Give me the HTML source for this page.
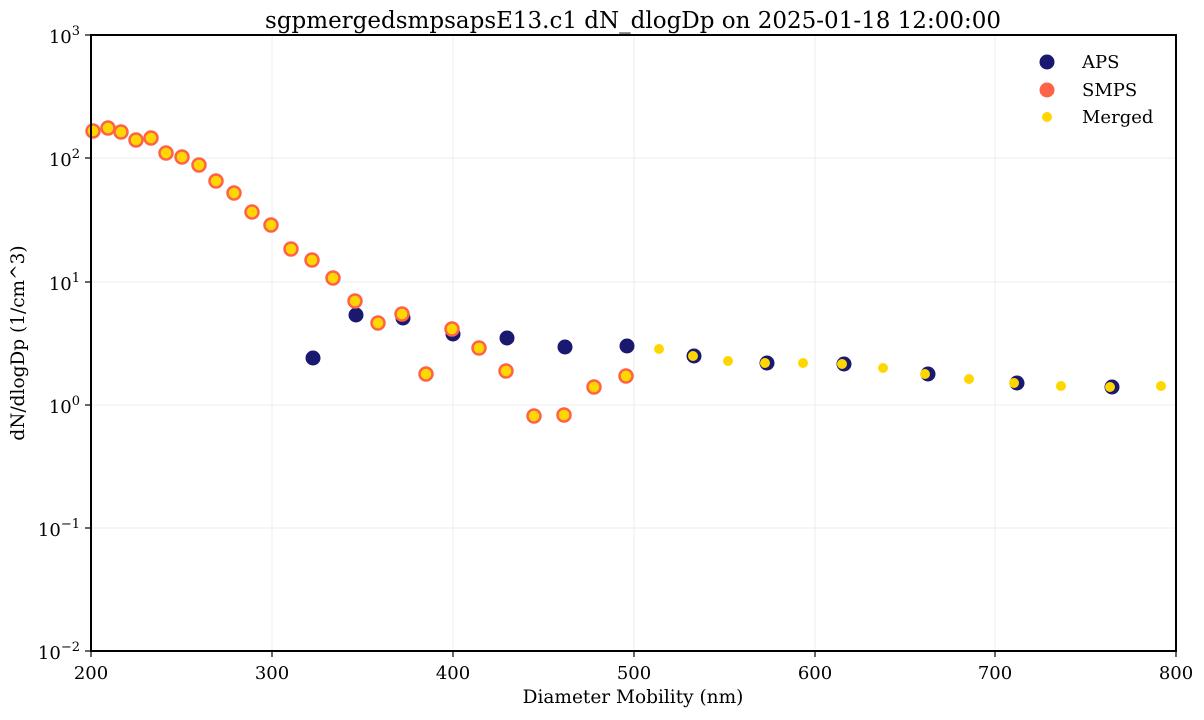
<!DOCTYPE html>
<html><head><meta charset="utf-8"><style>
body{margin:0;background:#fff}
text{font-family:"DejaVu Serif","Liberation Serif",serif;fill:#000}
</style></head><body>
<svg width="1204" height="715" xmlns="http://www.w3.org/2000/svg">
<rect width="1204" height="715" fill="#fff"/>
<g stroke="#ececec" stroke-width="1">
<line x1="272" y1="35" x2="272" y2="651"/><line x1="453" y1="35" x2="453" y2="651"/>
<line x1="634" y1="35" x2="634" y2="651"/><line x1="815" y1="35" x2="815" y2="651"/>
<line x1="995" y1="35" x2="995" y2="651"/>
<line x1="91" y1="158" x2="1176" y2="158"/><line x1="91" y1="282" x2="1176" y2="282"/>
<line x1="91" y1="405" x2="1176" y2="405"/><line x1="91" y1="528" x2="1176" y2="528"/>
</g>
<g fill="#191970">
<circle cx="313" cy="358" r="7.5"/><circle cx="356" cy="315" r="7.5"/><circle cx="403" cy="318" r="7.5"/>
<circle cx="453" cy="334" r="7.5"/><circle cx="507" cy="338" r="7.5"/><circle cx="565" cy="347" r="7.5"/>
<circle cx="627" cy="346" r="7.5"/><circle cx="694" cy="356" r="7.5"/><circle cx="767" cy="363" r="7.5"/>
<circle cx="844" cy="364" r="7.5"/><circle cx="928" cy="374" r="7.5"/><circle cx="1017" cy="383" r="7.5"/>
<circle cx="1112" cy="387" r="7.5"/>
</g>
<g fill="#ffd700" stroke="#ff6347" stroke-width="2.5">
<circle cx="93" cy="131" r="6.5"/><circle cx="108" cy="128" r="6.5"/><circle cx="121" cy="132" r="6.5"/>
<circle cx="136" cy="140" r="6.5"/><circle cx="151" cy="138" r="6.5"/><circle cx="166" cy="153" r="6.5"/>
<circle cx="182" cy="157" r="6.5"/><circle cx="199" cy="165" r="6.5"/><circle cx="216" cy="181" r="6.5"/>
<circle cx="234" cy="193" r="6.5"/><circle cx="252" cy="212" r="6.5"/><circle cx="271" cy="225" r="6.5"/>
<circle cx="291" cy="249" r="6.5"/><circle cx="312" cy="260" r="6.5"/><circle cx="333" cy="278" r="6.5"/>
<circle cx="355" cy="301" r="6.5"/><circle cx="378" cy="323" r="6.5"/><circle cx="402" cy="314" r="6.5"/>
<circle cx="426" cy="374" r="6.5"/><circle cx="452" cy="329" r="6.5"/><circle cx="479" cy="348" r="6.5"/>
<circle cx="506" cy="371" r="6.5"/><circle cx="534" cy="416" r="6.5"/><circle cx="564" cy="415" r="6.5"/>
<circle cx="594" cy="387" r="6.5"/><circle cx="626" cy="376" r="6.5"/>
</g>
<g fill="#ffd700">
<circle cx="659" cy="349" r="5"/><circle cx="693" cy="356" r="5"/><circle cx="728" cy="361" r="5"/>
<circle cx="765" cy="363" r="5"/><circle cx="803" cy="363" r="5"/><circle cx="842" cy="364" r="5"/>
<circle cx="883" cy="368" r="5"/><circle cx="925" cy="374" r="5"/><circle cx="969" cy="379" r="5"/>
<circle cx="1014" cy="383" r="5"/><circle cx="1061" cy="386" r="5"/><circle cx="1110" cy="387" r="5"/>
<circle cx="1161" cy="386" r="5"/>
</g>
<rect x="91" y="35" width="1085" height="616" fill="none" stroke="#000" stroke-width="2"/>
<g stroke="#000" stroke-width="1.2">
<line x1="91" y1="651" x2="91" y2="657"/><line x1="272" y1="651" x2="272" y2="657"/>
<line x1="453" y1="651" x2="453" y2="657"/><line x1="634" y1="651" x2="634" y2="657"/>
<line x1="815" y1="651" x2="815" y2="657"/><line x1="995" y1="651" x2="995" y2="657"/>
<line x1="1176" y1="651" x2="1176" y2="657"/>
<line x1="85" y1="35" x2="91" y2="35"/><line x1="85" y1="158" x2="91" y2="158"/>
<line x1="85" y1="282" x2="91" y2="282"/><line x1="85" y1="405" x2="91" y2="405"/>
<line x1="85" y1="528" x2="91" y2="528"/><line x1="85" y1="651" x2="91" y2="651"/>
</g>
<g font-size="18" text-anchor="middle">
<text x="91" y="679">200</text><text x="272" y="679">300</text><text x="453" y="679">400</text>
<text x="634" y="679">500</text><text x="815" y="679">600</text><text x="995" y="679">700</text>
<text x="1176" y="679">800</text>
</g>
<g font-size="18" text-anchor="end">
<text x="80" y="43">10<tspan dy="-8" font-size="13">3</tspan></text>
<text x="80" y="166">10<tspan dy="-8" font-size="13">2</tspan></text>
<text x="80" y="290">10<tspan dy="-8" font-size="13">1</tspan></text>
<text x="80" y="413">10<tspan dy="-8" font-size="13">0</tspan></text>
<text x="80" y="536">10<tspan dy="-8" font-size="13">−1</tspan></text>
<text x="80" y="659">10<tspan dy="-8" font-size="13">−2</tspan></text>
</g>
<text x="633" y="703" font-size="18.5" text-anchor="middle">Diameter Mobility (nm)</text>
<text transform="translate(24,343) rotate(-90)" font-size="18.5" text-anchor="middle">dN/dlogDp (1/cm^3)</text>
<text x="633" y="28" font-size="23" text-anchor="middle">sgpmergedsmpsapsE13.c1 dN_dlogDp on 2025-01-18 12:00:00</text>
<circle cx="1047" cy="62" r="7.5" fill="#191970"/>
<circle cx="1047" cy="90" r="7.5" fill="#ff6347"/>
<circle cx="1047" cy="117" r="5" fill="#ffd700"/>
<g font-size="18"><text x="1082" y="68">APS</text><text x="1082" y="96">SMPS</text><text x="1082" y="123">Merged</text></g>
</svg>
</body></html>
